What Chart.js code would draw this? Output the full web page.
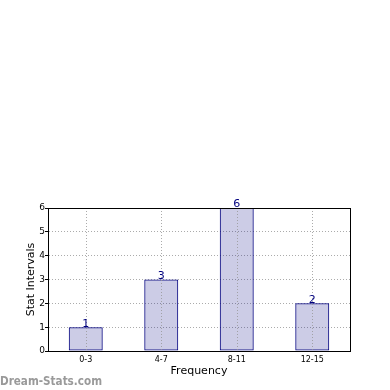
<!DOCTYPE html>
<html>
<head>
<meta charset="utf-8">
<script src="https://cdn.jsdelivr.net/npm/chart.js@4/dist/chart.umd.min.js"></script>
<style>
  html, body { margin: 0; padding: 0; background: #fff; }
  canvas { display: block; }
</style>
</head>
<body>
<canvas id="myChart" width="390" height="390"></canvas>
<script>
// categories and counts
var categories = ['0-3', '4-7', '8-11', '12-15'];
var counts = [1, 3, 6, 2];
var yTicks = [0, 1, 2, 3, 4, 5, 6];

// box around plot area, value labels and watermark
var extras = {
  id: 'extras',
  afterDatasetsDraw: function (chart) {
    var c = chart.ctx, a = chart.chartArea;
    c.save();
    // vertical dotted grid on top of bars like the original
    c.strokeStyle = 'rgba(150,150,150,0.8)';
    c.setLineDash([1, 2]);
    c.lineWidth = 1;
    var xs = chart.scales.x;
    categories.forEach(function (cat, i) {
      var px = Math.round(xs.getPixelForValue(i)) + 0.5;
      c.beginPath(); c.moveTo(px, a.top); c.lineTo(px, a.bottom); c.stroke();
    });
    c.setLineDash([]);
    c.strokeStyle = '#000';
    c.strokeRect(Math.round(a.left) + 0.5, Math.round(a.top) + 0.5, Math.round(a.right - a.left), Math.round(a.bottom - a.top));
    // value labels
    c.fillStyle = '#00007f';
    c.font = '11px "DejaVu Sans"';
    c.textAlign = 'center';
    c.textBaseline = 'bottom';
    chart.getDatasetMeta(0).data.forEach(function (bar, i) {
      c.fillText(String(counts[i]), bar.x, bar.y + 2);
    });
    // watermark
    c.fillStyle = '#9a9a9a';
    c.font = 'bold 12px "DejaVu Sans"';
    c.textAlign = 'left';
    c.textBaseline = 'alphabetic';
    c.fillText('Dream-Stats.com', 0, 385, 102);
    c.restore();
  }
};

var ctx = document.getElementById('myChart');
var myChart = new Chart(ctx, {
  type: 'bar',
  data: {
    labels: categories,
    datasets: [{
      data: counts,
      backgroundColor: 'rgba(0, 0, 128, 0.2)',
      borderColor: '#00007f',
      borderWidth: 1,
      borderSkipped: false,
      categoryPercentage: 0.45,
      barPercentage: 1
    }]
  },
  options: {
    responsive: false,
    animation: false,
    layout: { padding: { top: 208, right: 40, left: 0, bottom: 0 } },
    plugins: { legend: { display: false }, tooltip: { enabled: false } },
    scales: {
      x: {
        grid: { display: false, drawTicks: false },
        border: { color: '#000' },
        ticks: { color: '#000', font: { size: 8, family: 'DejaVu Sans' }, padding: 4 },
        title: { display: true, text: 'Frequency', color: '#000', font: { size: 11, family: 'DejaVu Sans' }, padding: { top: 0, bottom: 12 } },
        afterFit: function (s) { s.height = 39; }
      },
      y: {
        min: 0,
        max: 6,
        afterBuildTicks: function (s) { s.ticks = yTicks.map(function (v) { return { value: v }; }); },
        grid: { color: 'rgba(150,150,150,0.8)', tickLength: 3, tickColor: '#000' },
        border: { color: '#000', dash: [1, 2] },
        ticks: { color: '#000', font: { size: 9, family: 'DejaVu Sans' }, padding: 0 },
        title: { display: true, text: 'Stat Intervals', color: '#000', font: { size: 11, family: 'DejaVu Sans' }, padding: { top: 25, bottom: 0 } },
        afterFit: function (s) { s.width = 48; }
      }
    }
  },
  plugins: [extras]
});
</script>
</body>
</html>
